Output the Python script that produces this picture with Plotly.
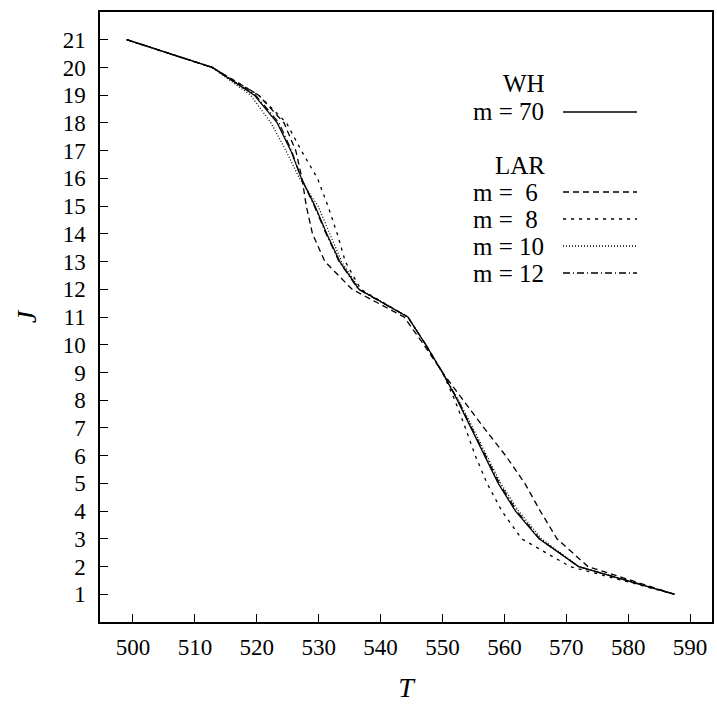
import plotly.graph_objects as go

J = list(range(21, 0, -1))

T_WH70 = [499.0, 512.8, 519.6, 523.3, 525.5, 527.2, 529.4, 531.3, 533.4, 536.5, 544.4,
          547.3, 550.0, 552.4, 554.6, 556.8, 559.0, 561.8, 565.6, 572.0, 587.5]
T_LAR6 = [499.0, 512.8, 520.3, 524.4, 526.3, 527.3, 528.0, 529.0, 531.0, 535.4, 543.8,
          547.0, 550.0, 553.3, 556.7, 560.2, 563.3, 565.8, 568.5, 573.5, 587.5]
T_LAR8 = [499.0, 512.8, 520.3, 524.8, 527.2, 529.8, 531.5, 533.0, 534.3, 536.8, 544.4,
          547.3, 550.0, 552.0, 553.7, 555.3, 557.2, 559.6, 562.8, 570.6, 587.5]
T_LAR10 = [499.0, 512.8, 519.0, 522.3, 524.7, 526.9, 529.9, 531.8, 533.7, 536.6, 544.4,
           547.3, 550.0, 552.6, 554.9, 557.2, 559.4, 562.3, 566.0, 572.0, 587.5]
T_LAR12 = [499.0, 512.8, 519.8, 523.6, 525.6, 527.2, 529.3, 531.2, 533.3, 536.4, 544.4,
           547.3, 550.0, 552.5, 554.7, 557.0, 559.2, 562.0, 565.7, 572.0, 587.5]

x_ticks = list(range(500, 600, 10))
y_ticks = list(range(1, 22))

series = [
    ("m = 70", T_WH70, "solid"),
    ("m =  6", T_LAR6, "6px,4px"),
    ("m =  8", T_LAR8, "3px,5px"),
    ("m = 10", T_LAR10, "1px,2px"),
    ("m = 12", T_LAR12, "7px,3px,1px,3px"),
]

FONT = "Liberation Serif"
fig = go.Figure()
for name, t, dash in series:
    fig.add_trace(go.Scatter(x=t, y=J, mode="lines", name=name,
                             line=dict(color="black", width=1.3, dash=dash),
                             showlegend=False))

W, H = 717, 704
L, R, TOP, B = 100, 5, 12, 82
pw, ph = W - L - R, H - TOP - B


def px(xp):
    return (xp - L) / pw


def py(yp):
    return 1 - (yp - TOP) / ph


# legend block: group headers right-aligned, entries left-aligned, sample line on the right
headers = [("WH", 84), ("LAR", 165)]
for txt, yp in headers:
    fig.add_annotation(x=px(547), y=py(yp), xref="paper", yref="paper", text=txt,
                       showarrow=False, xanchor="right", yanchor="middle",
                       font=dict(family=FONT, size=25, color="black"))
row_y = [112, 192, 219, 246, 273]
for (name, _, dash), yp in zip(series, row_y):
    fig.add_annotation(x=px(471), y=py(yp), xref="paper", yref="paper",
                       text=name.replace(" ", "&nbsp;"),
                       showarrow=False, xanchor="left", yanchor="middle",
                       font=dict(family=FONT, size=25, color="black"))
    fig.add_shape(type="line", xref="paper", yref="paper",
                  x0=px(563), x1=px(637), y0=py(yp), y1=py(yp),
                  line=dict(color="black", width=1.3, dash=dash))

axis_common = dict(showgrid=False, zeroline=False, showline=True, linecolor="black",
                   linewidth=1.5, mirror=True, ticks="inside", ticklen=8,
                   tickwidth=1.2, tickcolor="black", automargin=False,
                   tickfont=dict(family=FONT, size=23, color="black"))

fig.update_xaxes(range=[494.67, 593.54], tickvals=x_ticks, ticklabelstandoff=4,
                 title=dict(text="<i>T</i>", font=dict(family=FONT, size=28, color="black"),
                            standoff=18),
                 **axis_common)
fig.update_yaxes(range=[0, 22], tickvals=y_ticks, ticklabelstandoff=8,
                 title=dict(text="<i>J</i>", font=dict(family=FONT, size=28, color="black"),
                            standoff=18),
                 **axis_common)

fig.update_layout(width=W, height=H, margin=dict(l=L, r=R, t=TOP, b=B),
                  plot_bgcolor="white", paper_bgcolor="white",
                  font=dict(family=FONT, color="black"))

fig.write_html("out.html", config={"displayModeBar": False},
               post_script="document.body.style.margin='0';document.body.style.overflow='hidden';")
